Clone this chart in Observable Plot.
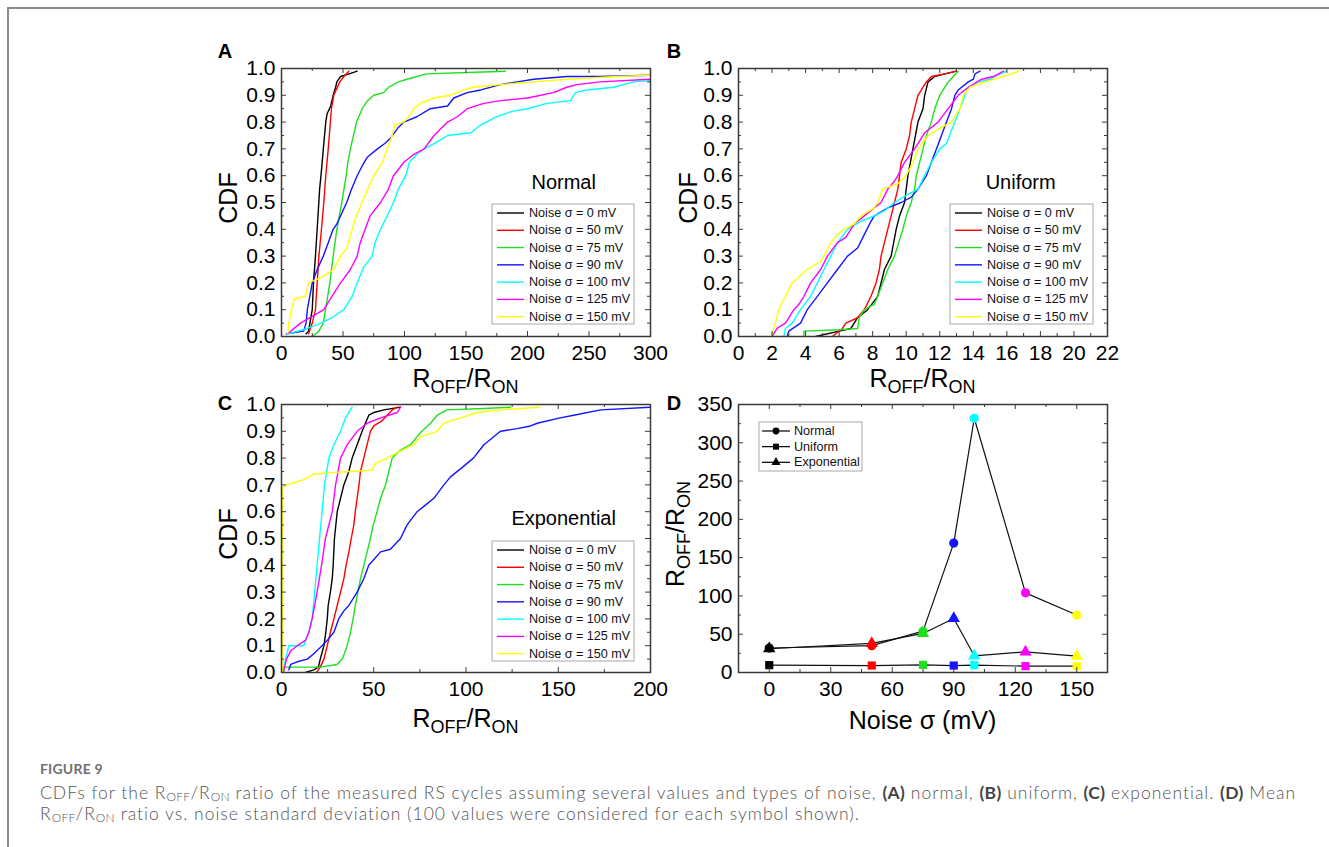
<!DOCTYPE html>
<html><head><meta charset="utf-8">
<script src="https://cdn.jsdelivr.net/npm/d3@7"></script>
<script src="https://cdn.jsdelivr.net/npm/@observablehq/plot@0.6"></script>
<style>
body{margin:0;background:#fff;width:1329px;height:847px;overflow:hidden;position:relative;font-family:"Liberation Sans",Arial,sans-serif;}
.border{position:absolute;left:7px;top:7px;right:0;bottom:0;border-top:2px solid #8a8a8a;border-left:2px solid #8a8a8a;}
.panel{position:absolute;}
.letter{position:absolute;font-weight:bold;font-size:20px;color:#000;transform:translate(-50%,-50%);line-height:1;}
.figlabel{position:absolute;left:40px;top:760px;font-family:Lato,"Open Sans",sans-serif;font-size:14px;font-weight:700;color:#707070;letter-spacing:0.2px;}
.caption{position:absolute;left:40px;top:782px;font-family:Lato,"Open Sans",sans-serif;font-weight:300;font-size:17.5px;letter-spacing:1.0px;line-height:21px;color:#555;white-space:nowrap;}
.caption b{color:#444;font-weight:700;letter-spacing:0.3px;}
.caption sub{font-size:12px;vertical-align:-2px;line-height:0;letter-spacing:0.3px;}
</style></head><body>
<div class="border"></div>
<div id="pA" class="panel" style="left:200px;top:40px"></div>
<div id="pB" class="panel" style="left:660px;top:40px"></div>
<div id="pC" class="panel" style="left:200px;top:385px"></div>
<div id="pD" class="panel" style="left:660px;top:385px"></div>
<div class="letter" style="left:225px;top:51px">A</div>
<div class="letter" style="left:674px;top:51px">B</div>
<div class="letter" style="left:225px;top:403px">C</div>
<div class="letter" style="left:674px;top:403px">D</div>
<div class="figlabel">FIGURE 9</div>
<div class="caption">CDFs for the R<sub>OFF</sub>/R<sub>ON</sub> ratio of the measured RS cycles assuming several values and types of noise, <b>(A)</b> normal, <b>(B)</b> uniform, <b>(C)</b> exponential. <b>(D)</b> Mean<br>R<sub>OFF</sub>/R<sub>ON</sub> ratio vs. noise standard deviation (100 values were considered for each symbol shown).</div>
<script>
// ---------- DATA ----------
const noiseLevels = [0, 50, 75, 90, 100, 125, 150];
const noiseColors = ["#000000", "#ff0000", "#1fe01f", "#1414ff", "#00ffff", "#ff00ff", "#ffff00"];
const legendLabels = ["Noise σ = 0 mV", "Noise σ = 50 mV", "Noise σ = 75 mV", "Noise σ = 90 mV", "Noise σ = 100 mV", "Noise σ = 125 mV", "Noise σ = 150 mV"];

// Panel A: Normal noise CDFs [R_OFF/R_ON, CDF]
const normal_0 = [[20,0.01],[22,0.02],[25,0.1],[26,0.2],[27.6,0.3],[29,0.4],[31,0.55],[32.5,0.62],[34,0.7],[36,0.8],[37,0.83],[40,0.86],[42,0.9],[44,0.93],[45,0.95],[48,0.97],[55,0.98],[61.5,0.99]];
const normal_50 = [[22,0.01],[25,0.05],[27.6,0.1],[29,0.2],[30.4,0.3],[32.5,0.4],[34.4,0.5],[36,0.6],[38,0.7],[40.6,0.85],[42.5,0.9],[47.4,0.95],[50.7,0.97],[54.7,0.99]];
const normal_75 = [[25,0.0],[30.4,0.02],[34,0.05],[35.8,0.1],[39.3,0.2],[42,0.3],[45,0.4],[49,0.5],[52.6,0.6],[54,0.65],[56,0.7],[61,0.8],[65.6,0.85],[70,0.88],[75,0.9],[83,0.91],[87,0.93],[95,0.95],[102,0.96],[118,0.98],[151,0.985],[182,0.99]];
const normal_90 = [[4,0.01],[18,0.02],[20,0.05],[21,0.1],[25,0.2],[29,0.25],[34,0.3],[38,0.35],[42,0.4],[45,0.42],[49,0.46],[53,0.5],[57,0.55],[61.5,0.6],[66,0.64],[70,0.67],[78,0.7],[84,0.72],[88.6,0.74],[95,0.78],[99.5,0.8],[110,0.82],[121,0.85],[135,0.86],[140,0.89],[151,0.91],[162,0.92],[178,0.94],[191.6,0.95],[205,0.96],[232,0.97],[259,0.97],[300,0.975]];
const normal_100 = [[5,0.01],[21,0.03],[32,0.05],[41,0.07],[50.7,0.1],[57.5,0.15],[61.5,0.2],[67,0.26],[73.7,0.3],[76,0.35],[80.5,0.4],[88,0.47],[91,0.5],[95,0.55],[101,0.6],[104,0.65],[110,0.68],[116,0.7],[124,0.72],[135,0.75],[154,0.76],[162,0.79],[175,0.82],[187.5,0.84],[200,0.85],[216,0.87],[235,0.88],[239,0.91],[248.5,0.92],[270,0.93],[286,0.95],[300,0.955]];
const normal_125 = [[5,0.01],[15.4,0.05],[34.4,0.1],[41,0.15],[48,0.2],[56,0.25],[61.5,0.3],[64,0.35],[68,0.4],[72,0.45],[80.5,0.5],[87,0.55],[91,0.6],[99.5,0.65],[107.6,0.68],[116,0.7],[124,0.75],[135,0.8],[143,0.82],[151,0.85],[164.5,0.87],[178,0.88],[200,0.89],[221,0.91],[232,0.93],[240,0.94],[259,0.95],[300,0.96]];
const normal_150 = [[5,0.01],[6,0.05],[8,0.1],[10.6,0.14],[19.5,0.15],[22,0.2],[32,0.22],[42.5,0.25],[48,0.3],[53,0.33],[57.5,0.4],[60,0.44],[65.6,0.5],[70,0.55],[75,0.6],[82,0.65],[86,0.7],[90,0.75],[92,0.79],[99.5,0.8],[103.5,0.82],[107.6,0.85],[113,0.87],[124,0.89],[137,0.9],[148,0.92],[156,0.93],[178,0.94],[205,0.95],[232,0.96],[273,0.97],[300,0.975]];

// Panel B: Uniform noise CDFs
const uniform_0 = [[4.6,0.0],[6,0.02],[6.7,0.03],[6.9,0.05],[7.1,0.07],[7.7,0.1],[8.3,0.15],[8.5,0.2],[8.7,0.25],[9.1,0.3],[9.4,0.4],[9.6,0.45],[9.9,0.5],[10.1,0.6],[10.4,0.7],[10.7,0.8],[11.0,0.85],[11.1,0.9],[11.3,0.95],[11.7,0.97],[12.3,0.98],[13,0.99]];
const uniform_50 = [[5.6,0.0],[6.2,0.03],[6.4,0.05],[7.1,0.07],[7.5,0.1],[7.9,0.15],[8.2,0.2],[8.4,0.25],[8.5,0.3],[8.7,0.35],[8.9,0.4],[9.1,0.45],[9.3,0.5],[9.5,0.55],[9.6,0.6],[9.7,0.65],[10.0,0.7],[10.2,0.75],[10.3,0.8],[10.5,0.85],[10.7,0.9],[11.2,0.95],[11.5,0.97],[12.3,0.98],[13,0.99]];
const uniform_75 = [[3.9,0.0],[3.9,0.02],[6.0,0.025],[7.1,0.03],[7.2,0.07],[7.5,0.1],[8.1,0.12],[8.3,0.15],[8.6,0.2],[8.9,0.25],[9.3,0.3],[9.8,0.4],[10.0,0.45],[10.3,0.5],[10.5,0.55],[10.6,0.6],[10.8,0.65],[11.0,0.7],[11.2,0.75],[11.5,0.8],[11.7,0.85],[12.0,0.9],[12.5,0.95],[13.1,0.99]];
const uniform_90 = [[2.9,0.0],[3.0,0.02],[3.7,0.05],[4.1,0.1],[4.7,0.15],[5.3,0.2],[5.9,0.25],[6.5,0.3],[7.1,0.33],[7.5,0.38],[7.9,0.43],[8.1,0.45],[8.9,0.48],[9.7,0.5],[10.3,0.52],[10.7,0.55],[11.2,0.6],[11.5,0.65],[11.8,0.7],[12.1,0.75],[12.4,0.8],[12.7,0.85],[12.9,0.9],[13.1,0.92],[13.7,0.95],[14.0,0.96],[14.1,0.98],[14.4,0.99]];
const uniform_100 = [[2.7,0.0],[2.8,0.03],[3.2,0.05],[3.7,0.1],[4.3,0.15],[4.7,0.2],[5.1,0.25],[5.5,0.3],[5.9,0.35],[6.5,0.4],[7.3,0.43],[8.1,0.45],[8.7,0.47],[9.3,0.5],[10.1,0.53],[10.7,0.55],[11.1,0.6],[11.5,0.65],[12.0,0.7],[12.4,0.72],[12.7,0.77],[12.9,0.8],[13.2,0.85],[13.5,0.9],[13.7,0.93],[14.3,0.95],[15.0,0.96],[15.6,0.98],[16.0,0.99]];
const uniform_125 = [[2.0,0.0],[2.3,0.03],[2.8,0.05],[3.3,0.1],[3.6,0.12],[3.9,0.15],[4.3,0.2],[4.9,0.25],[5.3,0.3],[5.9,0.35],[6.4,0.37],[6.9,0.42],[7.5,0.45],[8.1,0.48],[8.5,0.5],[8.9,0.55],[9.3,0.58],[9.5,0.6],[9.9,0.65],[10.5,0.7],[11.1,0.76],[11.9,0.8],[12.5,0.85],[13.1,0.9],[13.7,0.93],[14.5,0.96],[15.2,0.97],[15.8,0.99]];
const uniform_150 = [[1.95,0.0],[2.2,0.05],[2.4,0.1],[2.8,0.15],[3.2,0.2],[4.1,0.25],[4.9,0.28],[5.1,0.3],[5.5,0.35],[5.9,0.38],[6.3,0.4],[6.9,0.42],[7.3,0.45],[8.1,0.48],[8.3,0.5],[8.6,0.55],[9.5,0.57],[10.0,0.6],[10.4,0.65],[10.7,0.7],[11.3,0.75],[12.1,0.78],[12.7,0.8],[13.2,0.85],[13.4,0.9],[13.8,0.93],[14.7,0.95],[15.8,0.97],[16.7,0.99]];

// Panel C: Exponential noise CDFs
const exp_0 = [[13,0.0],[17.5,0.01],[20,0.02],[21,0.05],[23,0.1],[24,0.15],[24.8,0.2],[25.3,0.25],[26.5,0.3],[27.5,0.35],[28,0.4],[28.7,0.5],[30.2,0.6],[32,0.65],[33.8,0.7],[36.5,0.75],[38.3,0.8],[41,0.85],[43.7,0.9],[45.5,0.93],[47.3,0.96],[50,0.97],[55.5,0.98],[64.5,0.99]];
const exp_50 = [[19,0.0],[21,0.02],[23,0.05],[24.8,0.1],[26.5,0.15],[28.4,0.2],[30.2,0.25],[32,0.3],[33.8,0.35],[35,0.4],[36.5,0.45],[37.8,0.5],[39.2,0.55],[40,0.6],[42,0.7],[42.8,0.75],[44.6,0.8],[46.4,0.85],[48.2,0.9],[50,0.92],[54.6,0.94],[57.3,0.96],[60,0.98],[62.7,0.99]];
const exp_75 = [[1,0.02],[10,0.02],[21,0.02],[30,0.03],[33,0.05],[35.6,0.1],[37.4,0.15],[38.8,0.2],[40,0.25],[41.4,0.3],[42.8,0.35],[44.6,0.4],[46.4,0.45],[48.2,0.5],[49.7,0.55],[51.8,0.6],[53.7,0.65],[56.4,0.7],[58.2,0.75],[60,0.8],[64.5,0.83],[70,0.85],[73.5,0.88],[76,0.9],[80.8,0.93],[84.4,0.96],[89.8,0.98],[109.7,0.985],[124,0.99]];
const exp_90 = [[4,0.01],[5,0.03],[8.5,0.04],[14,0.05],[17.5,0.07],[22,0.1],[24.8,0.12],[28.4,0.15],[31,0.2],[33.8,0.23],[36.5,0.25],[41,0.3],[44.6,0.35],[47.3,0.4],[53.7,0.45],[59,0.46],[64.5,0.5],[68,0.55],[73.5,0.6],[79,0.63],[82.6,0.65],[88,0.7],[91.6,0.73],[98.8,0.77],[104,0.8],[109.7,0.85],[118.7,0.9],[127.7,0.91],[135,0.92],[138.6,0.93],[151,0.95],[158.4,0.96],[173,0.98],[200,0.99]];
const exp_100 = [[1,0.0],[2.2,0.05],[4,0.1],[12,0.1],[14.8,0.15],[16.6,0.2],[18,0.3],[19.3,0.4],[20.6,0.5],[22,0.6],[23.3,0.7],[25.7,0.8],[28.4,0.85],[32,0.9],[34.7,0.95],[38.3,0.99]];
const exp_125 = [[1,0.0],[2.7,0.05],[4.9,0.08],[8.5,0.1],[13,0.12],[14.8,0.15],[16.6,0.2],[19.3,0.3],[21.7,0.4],[23.8,0.5],[27.5,0.6],[29.3,0.7],[32,0.8],[35.6,0.85],[41,0.9],[46.4,0.93],[53.7,0.95],[62.7,0.97],[64.5,0.99]];
const exp_150 = [[0.5,0.0],[0.5,0.69],[3,0.7],[7.6,0.71],[12,0.72],[17.5,0.74],[24.8,0.745],[37.4,0.75],[49,0.755],[51,0.78],[57.3,0.8],[62.7,0.82],[71.7,0.85],[75.3,0.88],[84.4,0.9],[88,0.93],[97,0.95],[106,0.97],[118.7,0.98],[129.5,0.985],[140,0.99]];

// Panel D: mean R_OFF/R_ON vs noise sigma
const dNoise = [0, 50, 75, 90, 100, 125, 150];
const dNormal = [32, 35, 54, 169, 332, 104, 75];
const dUniform = [9.6, 9.1, 10, 9.1, 9.6, 8.3, 8.3];
const dExponential = [31, 38, 51, 70.5, 21.8, 27, 21.3];
const dTypes = ["Normal", "Uniform", "Exponential"];

// ---------- HELPERS ----------
const FONT = "Liberation Sans, Arial, sans-serif";
const FRAME = "#3a3a3a";
const TICKFS = 21;
const range = (a, b, s) => d3.range(a, b + s / 2, s).map(v => +v.toFixed(6));

function frameTicks(xMaj, xMin, yMaj, yMin, innerW, innerH) {
  const t = [];
  const st = {stroke: FRAME, strokeWidth: 1};
  for (const [vals, len] of [[xMaj, 5], [xMin, 3]]) {
    t.push(Plot.tickX(vals, {x: d => d, insetTop: innerH - len, ...st}));
    t.push(Plot.tickX(vals, {x: d => d, insetBottom: innerH - len, ...st}));
  }
  for (const [vals, len] of [[yMaj, 5], [yMin, 3]]) {
    t.push(Plot.tickY(vals, {y: d => d, insetRight: innerW - len, ...st}));
    t.push(Plot.tickY(vals, {y: d => d, insetLeft: innerW - len, ...st}));
  }
  return t;
}

function fixTickFont(svg) {
  d3.select(svg).selectAll('g[aria-label$="tick label"]')
    .attr("font-size", TICKFS).style("font-size", TICKFS + "px")
    .attr("font-family", FONT).style("font-family", FONT)
    .selectAll("text").style("font-size", TICKFS + "px").style("font-family", FONT);
}

function roffTitle(g, x, y, rotate) {
  const t = g.append("text")
    .attr("text-anchor", "middle")
    .attr("font-size", 25)
    .attr("font-family", FONT)
    .attr("fill", "#000")
    .attr("transform", `translate(${x},${y})` + (rotate ? " rotate(-90)" : ""));
  t.append("tspan").text("R");
  t.append("tspan").attr("font-size", 18).attr("dy", 6).text("OFF");
  t.append("tspan").attr("dy", -6).text("/R");
  t.append("tspan").attr("font-size", 18).attr("dy", 6).text("ON");
  return t;
}

function plainTitle(g, x, y, rotate, text, size) {
  g.append("text")
    .attr("text-anchor", "middle")
    .attr("dominant-baseline", "central")
    .attr("font-size", size)
    .attr("font-family", FONT)
    .attr("fill", "#000")
    .attr("transform", `translate(${x},${y})` + (rotate ? " rotate(-90)" : ""))
    .text(text);
}

function lineLegend(g, bx, by, bw, bh) {
  const lg = g.append("g");
  lg.append("rect").attr("x", bx).attr("y", by).attr("width", bw).attr("height", bh)
    .attr("fill", "#fff").attr("stroke", "#a8a8a8").attr("stroke-width", 1);
  legendLabels.forEach((lab, i) => {
    const yy = by + 9 + i * 17.28;
    lg.append("line").attr("x1", bx + 5).attr("x2", bx + 32).attr("y1", yy).attr("y2", yy)
      .attr("stroke", noiseColors[i]).attr("stroke-width", 1.4);
    lg.append("text").attr("x", bx + 37).attr("y", yy).attr("dominant-baseline", "central")
      .attr("text-anchor", "start")
      .attr("font-size", 12.6).attr("font-family", FONT).attr("fill", "#111").text(lab);
  });
}

function cdfPanel(el, curves, opts) {
  const {width, height, ml, mr, mt, mb, xDomain, xMaj, xMin, note, noteY, legend, xTitleY} = opts;
  const innerW = width - ml - mr, innerH = height - mt - mb;
  const rows = curves.flatMap((pts, i) => pts.map(([x, y]) => ({x, y, level: noiseLevels[i]})));
  const yMaj = range(0, 1, 0.1), yMin = range(0.05, 0.95, 0.1);
  const svg = Plot.plot({
    width, height, marginLeft: ml, marginRight: mr, marginTop: mt, marginBottom: mb,
    style: {fontFamily: FONT, fontSize: "20px", overflow: "visible", background: "transparent", color: "#000"},
    x: {domain: xDomain, label: null},
    y: {domain: [0, 1], label: null},
    color: {type: "ordinal", domain: noiseLevels, range: noiseColors},
    marks: [
      Plot.line(rows, {x: "x", y: "y", z: "level", stroke: "level", strokeWidth: 1.4, clip: true}),
      ...frameTicks(xMaj, xMin, yMaj, yMin, innerW, innerH),
      Plot.axisX({ticks: xMaj, tickSize: 0, tickPadding: 9, fontSize: TICKFS, tickFormat: d3.format("d")}),
      Plot.axisY({ticks: yMaj, tickSize: 0, tickPadding: 6, fontSize: TICKFS, tickFormat: d3.format(".1f")}),
      Plot.frame({stroke: FRAME, strokeWidth: 1.5})
    ]
  });
  fixTickFont(svg);
  const g = d3.select(svg).append("g");
  plainTitle(g, ml + innerW * 0.766, noteY, false, note, 20);
  lineLegend(g, legend[0], legend[1], legend[2], legend[3]);
  plainTitle(g, 28, mt + innerH / 2 - 4, true, "CDF", 25);
  roffTitle(g, ml + innerW / 2, xTitleY, false);
  el.appendChild(svg);
}

// ---------- PANELS ----------
cdfPanel(document.getElementById("pA"),
  [normal_0, normal_50, normal_75, normal_90, normal_100, normal_125, normal_150],
  {width: 460, height: 355, ml: 81, mr: 10, mt: 28, mb: 59, xDomain: [0, 300],
   xMaj: range(0, 300, 50), xMin: range(25, 275, 50), note: "Normal", noteY: 142,
   legend: [292, 164, 142, 120], xTitleY: 347});

cdfPanel(document.getElementById("pB"),
  [uniform_0, uniform_50, uniform_75, uniform_90, uniform_100, uniform_125, uniform_150],
  {width: 470, height: 355, ml: 78, mr: 23, mt: 28, mb: 59, xDomain: [0, 22],
   xMaj: range(0, 22, 2), xMin: range(1, 21, 2), note: "Uniform", noteY: 142,
   legend: [290, 164, 143, 120], xTitleY: 347});

cdfPanel(document.getElementById("pC"),
  [exp_0, exp_50, exp_75, exp_90, exp_100, exp_125, exp_150],
  {width: 460, height: 360, ml: 81, mr: 10, mt: 19, mb: 73, xDomain: [0, 200],
   xMaj: range(0, 200, 50), xMin: range(25, 175, 50), note: "Exponential", noteY: 133,
   legend: [292, 156, 142, 120], xTitleY: 342});

// Panel D
(function () {
  const width = 470, height = 360, ml = 78, mr = 23, mt = 19, mb = 73;
  const innerW = width - ml - mr, innerH = height - mt - mb;
  const series = {Normal: dNormal, Uniform: dUniform, Exponential: dExponential};
  const rows = ["Exponential", "Uniform", "Normal"].flatMap(type =>
    dNoise.map((n, i) => ({noise: n, value: series[type][i], type})));
  const svg = Plot.plot({
    width, height, marginLeft: ml, marginRight: mr, marginTop: mt, marginBottom: mb,
    style: {fontFamily: FONT, fontSize: "20px", overflow: "visible", background: "transparent", color: "#000"},
    x: {domain: [-15, 165], label: null},
    y: {domain: [0, 350], label: null},
    color: {type: "ordinal", domain: noiseLevels, range: noiseColors},
    symbol: {domain: dTypes, range: ["circle", "square", "triangle"]},
    marks: [
      Plot.line(rows, {x: "noise", y: "value", z: "type", stroke: "#111", strokeWidth: 1.2}),
      Plot.dot(rows, {x: "noise", y: "value", symbol: "type", fill: "noise", r: 4.6, stroke: "none"}),
      ...frameTicks(range(0, 150, 30), range(-15, 165, 30), range(0, 350, 50), range(25, 325, 50), innerW, innerH),
      Plot.axisX({ticks: range(0, 150, 30), tickSize: 0, tickPadding: 9, fontSize: TICKFS, tickFormat: d3.format("d")}),
      Plot.axisY({ticks: range(0, 350, 50), tickSize: 0, tickPadding: 6, fontSize: TICKFS, tickFormat: d3.format("d")}),
      Plot.frame({stroke: FRAME, strokeWidth: 1.5})
    ]
  });
  fixTickFont(svg);
  const g = d3.select(svg).append("g");
  // legend
  const bx = 99, by = 37, bw = 103, bh = 49;
  g.append("rect").attr("x", bx).attr("y", by).attr("width", bw).attr("height", bh)
    .attr("fill", "#fff").attr("stroke", "#a8a8a8");
  const sym = [d3.symbolCircle, d3.symbolSquare, d3.symbolTriangle];
  dTypes.forEach((t, i) => {
    const yy = by + 9 + i * 15.65;
    g.append("line").attr("x1", bx + 3).attr("x2", bx + 31).attr("y1", yy).attr("y2", yy)
      .attr("stroke", "#000").attr("stroke-width", 1.2);
    g.append("path").attr("d", d3.symbol(sym[i], 36)()).attr("transform", `translate(${bx + 17},${yy})`).attr("fill", "#000");
    g.append("text").attr("x", bx + 35).attr("y", yy).attr("dominant-baseline", "central")
      .attr("text-anchor", "start")
      .attr("font-size", 12.6).attr("font-family", FONT).attr("fill", "#111").text(t);
  });
  roffTitle(g, 24, mt + innerH / 2 - 4, true);
  plainTitle(g, ml + innerW / 2, 335, false, "Noise σ (mV)", 25);
  document.getElementById("pD").appendChild(svg);
})();
</script>
</body></html>
